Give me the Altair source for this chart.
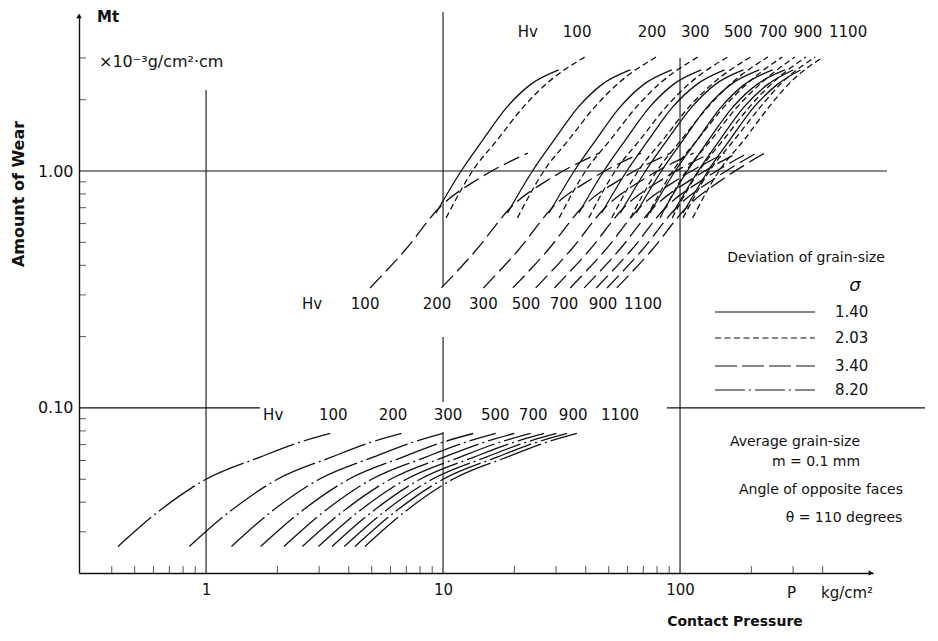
import altair as alt
import pandas as pd

# ---------------- data ----------------
HV = [100, 200, 300, 400, 500, 600, 700, 800, 900, 1000, 1100]

# sigma = 1.40 (solid) : wear levels and contact pressure per hardness
M_140 = [0.665, 1.01, 1.35, 1.86, 2.31, 2.67]
P_140 = [
    [9.34, 12.0, 14.7, 18.6, 23.3, 30.8],
    [18.7, 24.0, 29.4, 37.2, 46.6, 61.6],
    [28.0, 36.0, 44.1, 55.8, 69.9, 92.4],
    [37.4, 48.0, 58.8, 74.4, 93.2, 123],
    [46.7, 60.0, 73.5, 93.0, 117, 154],
    [56.0, 72.0, 88.2, 112, 140, 185],
    [65.4, 84.0, 103, 130, 163, 216],
    [74.7, 96.0, 118, 149, 186, 246],
    [84.1, 108, 132, 167, 210, 277],
    [93.4, 120, 147, 186, 233, 300],
    [103, 132, 162, 205, 256, 322],
]

# sigma = 2.03 (dashed)
M_203 = [0.634, 1.01, 1.35, 1.86, 2.35, 3.03]
P_203 = [
    [10.3, 13.4, 16.9, 21.8, 27.5, 39.7],
    [20.6, 26.8, 33.8, 43.6, 55.0, 79.4],
    [30.9, 40.2, 50.7, 65.4, 82.5, 119],
    [41.2, 53.6, 67.6, 87.2, 110, 159],
    [51.5, 67.0, 84.5, 109, 138, 199],
    [61.8, 80.4, 101, 131, 165, 235],
    [72.1, 93.8, 118, 153, 193, 270],
    [82.4, 107, 135, 174, 220, 305],
    [92.7, 121, 152, 196, 245, 340],
    [103, 134, 169, 218, 268, 372],
    [113, 147, 186, 237, 290, 402],
]

# sigma = 3.40 (long dash)
M_340 = [0.321, 0.464, 0.705, 0.934, 1.19]
P_340 = [
    [4.92, 6.92, 9.71, 14.3, 22.8],
    [9.84, 13.8, 19.4, 28.6, 45.6],
    [14.8, 20.8, 29.1, 42.9, 68.4],
    [19.7, 27.7, 38.8, 57.2, 91.2],
    [24.6, 34.6, 48.6, 71.5, 114],
    [29.5, 41.5, 58.3, 85.8, 135],
    [34.4, 48.4, 68.0, 100, 155],
    [39.4, 55.4, 77.7, 114, 174],
    [44.3, 62.3, 87.4, 128, 193],
    [49.2, 69.2, 97.1, 141, 210],
    [54.1, 76.1, 107, 154, 228],
]

# sigma = 8.20 (dash-dot)
M_820 = [0.026, 0.037, 0.050, 0.062, 0.071, 0.078]
P_820 = [
    [0.425, 0.64, 1.0, 1.69, 2.42, 3.34],
    [0.85, 1.28, 2.0, 3.38, 4.84, 6.68],
    [1.28, 1.92, 3.0, 5.07, 7.26, 10.0],
    [1.70, 2.56, 4.0, 6.76, 9.68, 13.4],
    [2.13, 3.20, 5.0, 8.45, 12.1, 16.7],
    [2.55, 3.84, 6.0, 10.1, 14.5, 20.0],
    [2.98, 4.48, 7.0, 11.8, 16.9, 23.4],
    [3.40, 5.12, 8.0, 13.5, 19.4, 26.7],
    [3.83, 5.76, 9.0, 15.2, 21.8, 30.1],
    [4.25, 6.40, 10.0, 16.9, 24.2, 33.4],
    [4.68, 7.04, 11.0, 18.6, 26.6, 36.7],
]

# hardness label rows (text, P position, M position)
LABELS = ["Hv", "100", "200", "300", "500", "700", "900", "1100"]
TOP_P = [22.8, 36.8, 76.2, 116, 176, 247, 347, 512]
TOP_M = 3.86
MID_P = [2.80, 4.69, 9.43, 14.8, 22.4, 32.4, 47.3, 69.8]
MID_M = 0.275
BOT_P = [1.92, 3.44, 6.15, 10.5, 16.6, 24.0, 35.4, 55.8]
BOT_M = 0.0934

# reference lines: (P start, P end, M start, M end)
REF_P1 = [1, 10, 10, 10, 100, 0.291, 0.291, 88]
REF_P2 = [1, 10, 10, 10, 100, 747, 1.69, 1085]
REF_M1 = [0.0201, 0.324, 0.106, 0.0201, 0.0201, 1.0, 0.1, 0.1]
REF_M2 = [2.2, 4.69, 0.199, 0.0792, 3.0, 1.0, 0.1, 0.1]

# minor ticks
XTICKS = [0.4, 0.5, 0.6, 0.7, 0.8, 0.9, 2, 3, 4, 5, 6, 7, 8, 9,
          20, 30, 40, 50, 60, 70, 80, 90, 200, 300, 400]
YTICKS = [0.03, 0.04, 0.05, 0.06, 0.07, 0.08, 0.09,
          0.2, 0.3, 0.4, 0.5, 0.6, 0.7, 0.8, 0.9, 2, 3]

SIGMAS = ["1.40", "2.03", "3.40", "8.20"]

# ---------------- build tables ----------------
def curve_table(p_rows, m_levels, sigma):
    rows = []
    for hv, prow in zip(HV, p_rows):
        for p, m in zip(prow, m_levels):
            rows.append({"P": p, "M": m, "curve": f"{sigma}-{hv}"})
    return pd.DataFrame(rows)

df140 = curve_table(P_140, M_140, "1.40")
df203 = curve_table(P_203, M_203, "2.03")
df340 = curve_table(P_340, M_340, "3.40")
df820 = curve_table(P_820, M_820, "8.20")

lab_df = pd.DataFrame(
    [{"P": p, "M": TOP_M, "t": t} for p, t in zip(TOP_P, LABELS)]
    + [{"P": p, "M": MID_M, "t": t} for p, t in zip(MID_P, LABELS)]
    + [{"P": p, "M": BOT_M, "t": t} for p, t in zip(BOT_P, LABELS)]
)
ref_df = pd.DataFrame({"P": REF_P1, "P2": REF_P2, "M": REF_M1, "M2": REF_M2})
xt_df = pd.DataFrame({"P": XTICKS})
yt_df = pd.DataFrame({"M": YTICKS})

W, H = 794, 559
FONT = "DejaVu Sans"
INK = "#111111"

xs = alt.Scale(type="log", domain=[0.291, 652])
ys = alt.Scale(type="log", domain=[0.0201, 4.6])
x_axis = alt.Axis(values=[1, 10, 100], format="d", title=None, grid=False, ticks=False,
                  domainColor=INK, domainWidth=1.4, labelFontSize=15, labelFont=FONT,
                  labelColor=INK, labelPadding=9)
y_axis = alt.Axis(values=[0.1, 1], format=".2f", title=None, grid=False, ticks=False,
                  domainColor=INK, domainWidth=1.4, labelFontSize=16, labelFont=FONT,
                  labelColor=INK, labelPadding=6)
X = alt.X("P:Q", scale=xs, axis=x_axis)
Y = alt.Y("M:Q", scale=ys, axis=y_axis)

base_line = dict(color=INK, strokeWidth=1.3, interpolate="monotone")

l140 = alt.Chart(df140).mark_line(**base_line).encode(x=X, y=Y, detail="curve:N")
l203 = alt.Chart(df203).mark_line(strokeDash=[6, 3.5], **base_line).encode(x=X, y=Y, detail="curve:N")
l340 = alt.Chart(df340).mark_line(strokeDash=[17, 6], **base_line).encode(x=X, y=Y, detail="curve:N")
l820 = alt.Chart(df820).mark_line(strokeDash=[44, 4, 2, 4], **base_line).encode(x=X, y=Y, detail="curve:N")

refs = alt.Chart(ref_df).mark_rule(color=INK, strokeWidth=1.1).encode(
    x=X, x2="P2:Q", y=Y, y2="M2:Q")

xticks = alt.Chart(xt_df).mark_tick(orient="vertical", size=7, thickness=1, color=INK).encode(
    x=X, y=alt.value(H - 3.5))
yticks = alt.Chart(yt_df).mark_tick(orient="horizontal", size=7, thickness=1, color=INK).encode(
    y=Y, x=alt.value(3.5))

labels = alt.Chart(lab_df).mark_text(font=FONT, fontSize=15, color=INK, align="center",
                                     baseline="middle").encode(x=X, y=Y, text="t:N")

def txt(s, x, y, size=14, weight="normal", align="left", angle=0, style="normal"):
    return alt.Chart(pd.DataFrame({"t": [s]})).mark_text(
        font=FONT, fontSize=size, fontWeight=weight, align=align, baseline="middle",
        angle=angle, color=INK, fontStyle=style).encode(
        x=alt.value(x), y=alt.value(y), text="t:N")

ann = [
    txt("Mt", 18, 3, size=15, weight="bold"),
    txt("×10⁻³g/cm²·cm", 20, 48, size=16),
    txt("Amount   of   Wear", -60, 180, size=16, weight="bold", align="center", angle=270),
    txt("P", 708, 579, size=15),
    txt("kg/cm²", 742, 579, size=15),
    txt("Contact   Pressure", 656, 608, size=14, weight="bold", align="center"),
    txt("Deviation  of  grain-size", 727, 244, size=14, align="center"),
    txt("σ", 776, 272, size=18, style="italic", align="center"),
    txt("1.40", 756, 298, size=15),
    txt("2.03", 756, 324, size=15),
    txt("3.40", 756, 352, size=15),
    txt("8.20", 756, 376, size=15),
    txt("Average  grain-size", 716, 428, size=14, align="center"),
    txt("m = 0.1 mm", 737, 448, size=14, align="center"),
    txt("Angle  of  opposite  faces", 742, 476, size=14, align="center"),
    txt("θ = 110  degrees", 765, 504, size=14, align="center"),
]

# legend samples
leg_y = [298, 324, 352, 376]
leg_dash = [[1, 0], [6, 3.5], [22, 5], [30, 4, 2, 4]]
legend = []
for s, yy, d in zip(SIGMAS, leg_y, leg_dash):
    legend.append(
        alt.Chart(pd.DataFrame({"s": [s]})).mark_rule(color=INK, strokeWidth=1.2, strokeDash=d)
        .encode(x=alt.value(636), x2=alt.value(736), y=alt.value(yy)))

arrows = [
    alt.Chart(pd.DataFrame({"a": [0]})).mark_point(shape="triangle-up", filled=True, size=30,
                                                   color=INK, opacity=1)
    .encode(x=alt.value(0), y=alt.value(2)),
    alt.Chart(pd.DataFrame({"a": [0]})).mark_point(shape="triangle-right", filled=True, size=30,
                                                   color=INK, opacity=1)
    .encode(x=alt.value(W - 2), y=alt.value(H)),
]

chart = alt.layer(
    refs, l820, l340, l203, l140, xticks, yticks, labels, *ann, *legend, *arrows
).properties(
    width=W, height=H,
    autosize=alt.AutoSizeParams(type="none"),
    padding={"left": 71, "top": 6, "right": 52, "bottom": 59},
    background="white",
).configure_view(stroke=None)

chart.save("out.html", embed_options={"renderer": "svg", "actions": False})
